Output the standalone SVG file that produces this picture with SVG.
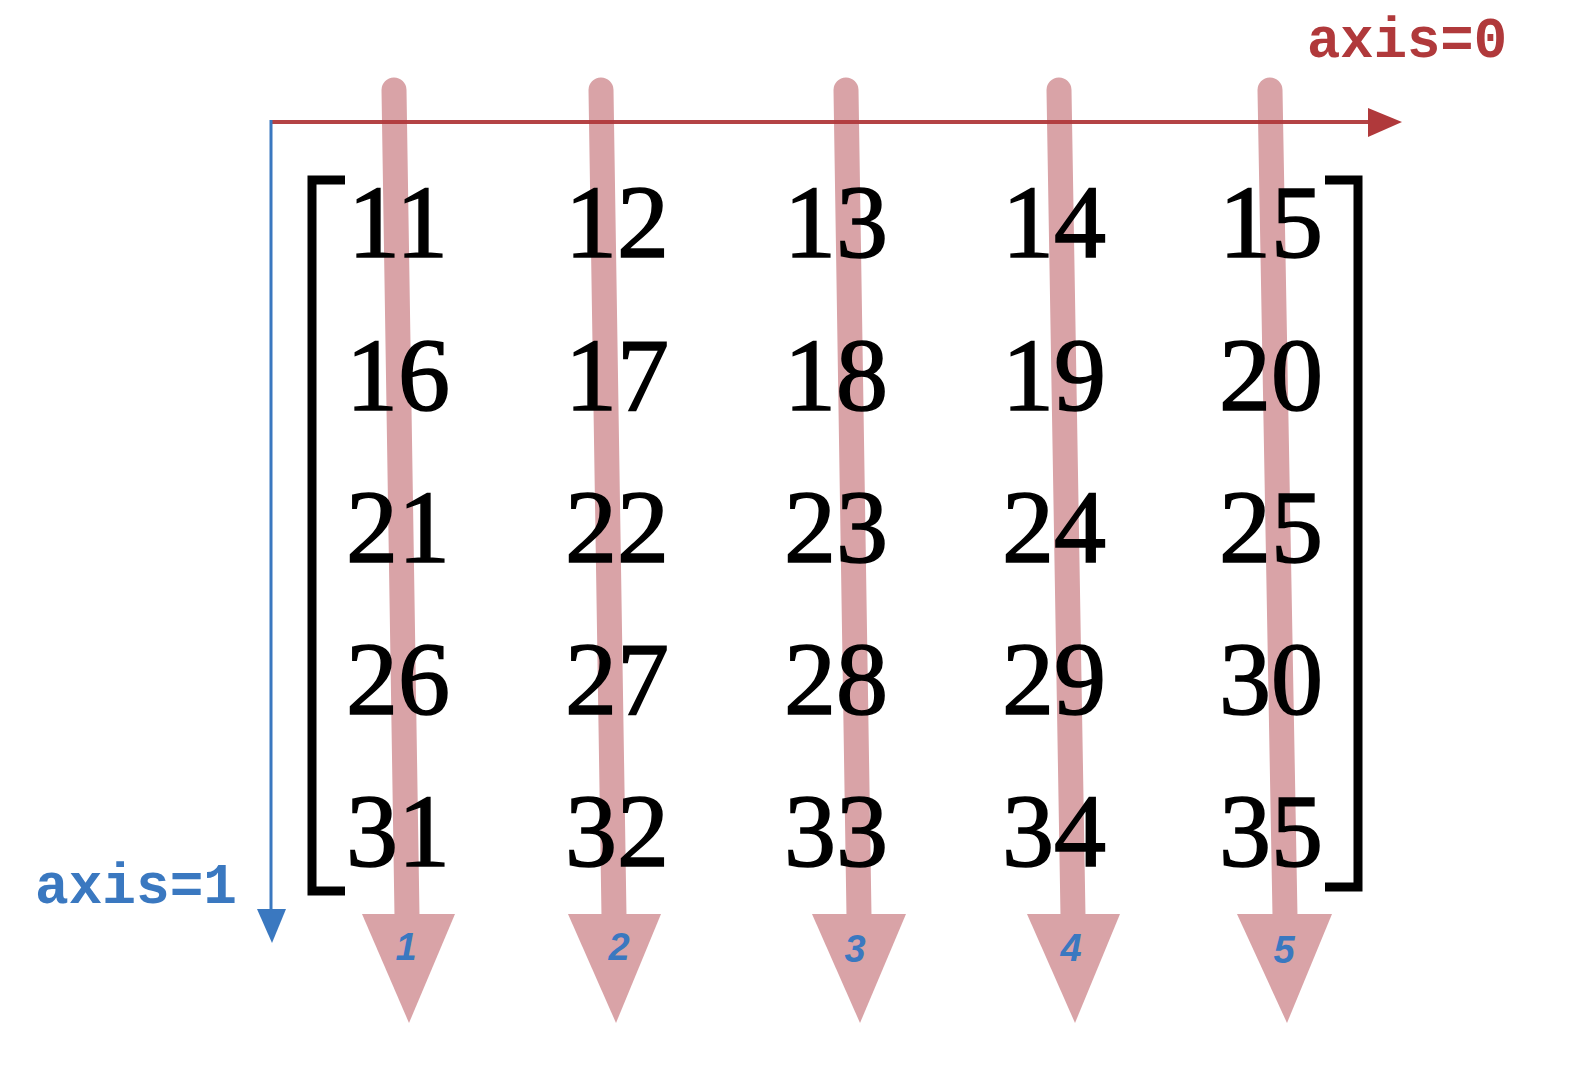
<svg xmlns="http://www.w3.org/2000/svg" width="1582" height="1080" viewBox="0 0 1582 1080">
<style>
.num{font-family:"Liberation Serif","DejaVu Serif",serif;font-size:104px;fill:#000;stroke:#000;stroke-width:1.6;text-anchor:middle}
.ax{font-family:"Liberation Mono","DejaVu Sans Mono",monospace;font-weight:bold;font-size:57px}
.lbl{font-family:"Liberation Sans","DejaVu Sans",sans-serif;font-style:italic;font-weight:bold;font-size:38px;fill:#3a78c0;text-anchor:middle}
.shaft{stroke:#d9a3a7;stroke-width:25;stroke-linecap:round;fill:none}
.head{fill:#d9a3a7}
</style>
<rect width="1582" height="1080" fill="#fff"/>
<g id="connectors">
<g id="arrow1">
<line class="shaft" x1="394" y1="90" x2="407" y2="916"/>
<polygon class="head" points="362,914 455,914 409,1023"/>
</g>
<g id="arrow2">
<line class="shaft" x1="601" y1="90" x2="614" y2="916"/>
<polygon class="head" points="568,914 661,914 616,1023"/>
</g>
<g id="arrow3">
<line class="shaft" x1="846" y1="90" x2="859" y2="916"/>
<polygon class="head" points="812,914 906,914 860,1023"/>
</g>
<g id="arrow4">
<line class="shaft" x1="1059" y1="90" x2="1073" y2="916"/>
<polygon class="head" points="1027,914 1120,914 1075,1023"/>
</g>
<g id="arrow5">
<line class="shaft" x1="1270" y1="90" x2="1285" y2="916"/>
<polygon class="head" points="1237,914 1332,914 1287,1023"/>
</g>
</g>
<g id="axes">
<line x1="271" y1="122" x2="1370" y2="122" stroke="#b0393b" stroke-width="4" stroke-opacity="0.95"/>
<polygon points="1368,108 1402,122 1368,137" fill="#b0393b"/>
<line x1="271" y1="120" x2="271" y2="912" stroke="#3a78c0" stroke-width="3"/>
<polygon points="257,909 286,909 272,943" fill="#3a78c0"/>
<text class="ax" x="1307" y="57" fill="#b0393b" textLength="200" lengthAdjust="spacingAndGlyphs">axis=0</text>
<text class="ax" x="35" y="903" fill="#3a78c0" textLength="202" lengthAdjust="spacingAndGlyphs">axis=1</text>
</g>
<g id="matrix">
<path d="M345,180 H312 V891 H345" fill="none" stroke="#000" stroke-width="9"/>
<path d="M1325,180 H1358 V887 H1325" fill="none" stroke="#000" stroke-width="9"/>
<text class="num" x="398" y="257">11</text>
<text class="num" x="617" y="257">12</text>
<text class="num" x="836" y="257">13</text>
<text class="num" x="1054" y="257">14</text>
<text class="num" x="1271" y="257">15</text>
<text class="num" x="398" y="410">16</text>
<text class="num" x="617" y="410">17</text>
<text class="num" x="836" y="410">18</text>
<text class="num" x="1054" y="410">19</text>
<text class="num" x="1271" y="410">20</text>
<text class="num" x="398" y="562">21</text>
<text class="num" x="617" y="562">22</text>
<text class="num" x="836" y="562">23</text>
<text class="num" x="1054" y="562">24</text>
<text class="num" x="1271" y="562">25</text>
<text class="num" x="398" y="714">26</text>
<text class="num" x="617" y="714">27</text>
<text class="num" x="836" y="714">28</text>
<text class="num" x="1054" y="714">29</text>
<text class="num" x="1271" y="714">30</text>
<text class="num" x="398" y="866">31</text>
<text class="num" x="617" y="866">32</text>
<text class="num" x="836" y="866">33</text>
<text class="num" x="1054" y="866">34</text>
<text class="num" x="1271" y="866">35</text>
</g>
<g id="labels">
<text class="lbl" x="406" y="960" font-size="30">1</text>
<text class="lbl" x="619" y="960">2</text>
<text class="lbl" x="855" y="962">3</text>
<text class="lbl" x="1071" y="961">4</text>
<text class="lbl" x="1284" y="963">5</text>
</g>
</svg>
